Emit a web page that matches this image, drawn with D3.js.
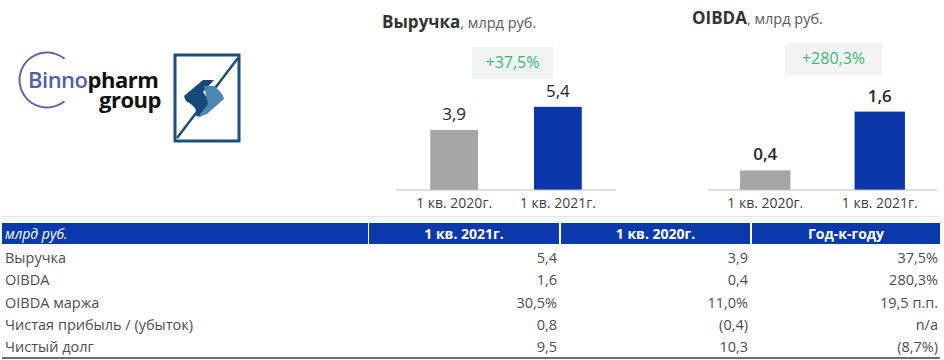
<!DOCTYPE html>
<html><head><meta charset="utf-8">
<script src="https://cdn.jsdelivr.net/npm/d3@7"></script>
<style>
html,body{margin:0;padding:0;background:#fff;}
svg{display:block;font-family:"Open Sans",sans-serif;}
</style></head>
<body>
<svg id="c" width="944" height="360"></svg>
<script>
// ---- data ----
const periods = ["1 кв. 2020г.", "1 кв. 2021г."];
const revenueValues = [3.9, 5.4];
const revenueLabels = ["3,9", "5,4"];
const revenueGrowth = "+37,5%";
const oibdaValues = [0.4, 1.6];
const oibdaLabels = ["0,4", "1,6"];
const oibdaGrowth = "+280,3%";
const tableHeader = ["млрд руб.", "1 кв. 2021г.", "1 кв. 2020г.", "Год-к-году"];
const rowNames = ["Выручка", "OIBDA", "OIBDA маржа", "Чистая прибыль / (убыток)", "Чистый долг"];
const col2021 = ["5,4", "1,6", "30,5%", "0,8", "9,5"];
const col2020 = ["3,9", "0,4", "11,0%", "(0,4)", "10,3"];
const colYoY = ["37,5%", "280,3%", "19,5 п.п.", "n/a", "(8,7%)"];

const svg = d3.select("#c");
const barColors = ["#a6a6a6", "#0b36a8"];

function barChart(opt){
  const g = svg.append("g");
  const x = d3.scaleBand().domain(periods).range([opt.x0, opt.x1]).paddingInner(opt.pin).paddingOuter(opt.pout);
  const y = d3.scaleLinear().domain([0, opt.ymax]).range([190, 190 - opt.ymax*opt.ppu]);
  // title
  const t = g.append("text").attr("x", opt.tx).attr("y", opt.ty);
  t.append("tspan").text(opt.title).attr("font-weight", 700).attr("font-size", 17).attr("fill", "#333");
  t.append("tspan").text(", млрд руб.").attr("font-size", 14.5).attr("fill", "#595959");
  // growth box
  g.append("rect").attr("x", opt.gx).attr("y", opt.gy).attr("width", opt.gw).attr("height", 32).attr("fill", "#f2f4f3");
  g.append("text").attr("x", opt.gx + opt.gw/2).attr("y", opt.gy + 21).attr("text-anchor", "middle")
    .attr("font-size", 16).attr("fill", "#3cb878").text(opt.growth);
  // bars
  g.selectAll("rect.bar").data(opt.values).enter().append("rect").attr("class","bar")
    .attr("x", (d,i)=>x(periods[i])).attr("width", x.bandwidth())
    .attr("y", d=>y(d)).attr("height", d=>y(0)-y(d)).attr("fill", (d,i)=>barColors[i]);
  g.selectAll("text.val").data(opt.values).enter().append("text").attr("class","val")
    .attr("x", (d,i)=>x(periods[i]) + x.bandwidth()/2).attr("y", d=>y(d) - 10)
    .attr("text-anchor","middle").attr("font-size", 17).attr("font-weight", opt.bold?600:400)
    .attr("fill","#262626").text((d,i)=>opt.labels[i]);
  // axis
  const ax = g.append("g").attr("transform", "translate(0,190)")
    .call(d3.axisBottom(x).tickSize(0).tickPadding(8));
  ax.select(".domain").attr("stroke", "#bfbfbf").attr("d", `M${opt.ax0},0H${opt.ax1}`);
  ax.selectAll("text").attr("font-size", 14).attr("fill", "#404040").attr("font-family", "Open Sans");
}

barChart({x0:396, x1:616, pin:0.54, pout:0.33, ymax:7, ppu:15.4, ax0:396, ax1:616,
  values:revenueValues, labels:revenueLabels, title:"Выручка", tx:382, ty:28,
  gx:472, gy:47, gw:81, growth:revenueGrowth, bold:false});
barChart({x0:708, x1:937, pin:0.56, pout:0.28, ymax:1.8, ppu:49, ax0:708, ax1:937,
  values:oibdaValues, labels:oibdaLabels, title:"OIBDA", tx:692, ty:24,
  gx:785, gy:43, gw:97, growth:oibdaGrowth, bold:true});

// ---- logos ----
const lg = svg.append("g");
lg.append("path").attr("d", d3.arc().innerRadius(26.5).outerRadius(28.5)
   .startAngle(Math.PI*0.78).endAngle(Math.PI*2.22)()).attr("transform","translate(47,80)").attr("fill","#5d66ad");
const logoText = lg.append("text").attr("font-size", 22).attr("letter-spacing", -0.5);
logoText.append("tspan").attr("x", 28).attr("y", 88).attr("fill", "#5560a8").attr("font-weight", 600).text("Binno");
logoText.append("tspan").attr("fill","#111").attr("font-weight",700).text("pharm");
logoText.append("tspan").attr("x", 99).attr("y", 108).attr("fill","#111").attr("font-weight",700).text("group");
// square logo
lg.append("rect").attr("x", 175).attr("y", 55).attr("width", 64).attr("height", 86)
  .attr("fill", "#fff").attr("stroke", "#1f4e79").attr("stroke-width", 3);
lg.append("line").attr("x1", 177).attr("y1", 138).attr("x2", 238).attr("y2", 58)
  .attr("stroke", "#1f4e79").attr("stroke-width", 2.5);
lg.append("path").attr("d","M184,96 L203,80 L214,80 L203,92 Q209,100 212,106 L201,116 L196,116 Q199,108 186,101 Z").attr("fill","#154a78");
lg.append("path").attr("d","M204,86 L214,86 Q224,94 224,99 L207,114 L197,118 L208,104 Q206,95 204,86 Z").attr("fill","#4b86b4");

// ---- table ----
const tg = svg.append("g");
tg.append("line").attr("x1", 2).attr("x2", 940).attr("y1", 216.5).attr("y2", 216.5).attr("stroke", "#e6e6e6");
const colX = [[2,368],[369,559],[561,750],[752,940]];
const hdr = "#0a39ab";
tg.selectAll("rect.h").data(colX).enter().append("rect")
  .attr("x", d=>d[0]).attr("width", d=>d[1]-d[0]).attr("y", 223).attr("height", 21).attr("fill", hdr);
tg.selectAll("text.h").data(tableHeader).enter().append("text")
  .attr("x", (d,i)=> i===0 ? 5 : (colX[i][0]+colX[i][1])/2)
  .attr("y", 239).attr("text-anchor", (d,i)=> i===0 ? "start" : "middle")
  .attr("font-size", 14).attr("fill", "#fff")
  .attr("font-style", (d,i)=> i===0 ? "italic" : "normal")
  .attr("font-weight", (d,i)=> i===0 ? 400 : 700).text(d=>d);
const rowY = d3.scalePoint().domain(d3.range(rowNames.length)).range([258, 347]);
const cols = [rowNames, col2021, col2020, colYoY];
cols.forEach((col, ci) => {
  tg.selectAll("text.c"+ci).data(col).enter().append("text")
    .attr("x", ci===0 ? 5 : colX[ci][1] - 2)
    .attr("y", (d,i)=> rowY(i) + 5)
    .attr("text-anchor", ci===0 ? "start" : "end")
    .attr("font-size", 14.5).attr("fill", "#4d4d4d").text(d=>d);
});
tg.append("line").attr("x1", 2).attr("x2", 940).attr("y1", 358).attr("y2", 358).attr("stroke", "#404040").attr("stroke-width", 1.5);
</script>
</body></html>
